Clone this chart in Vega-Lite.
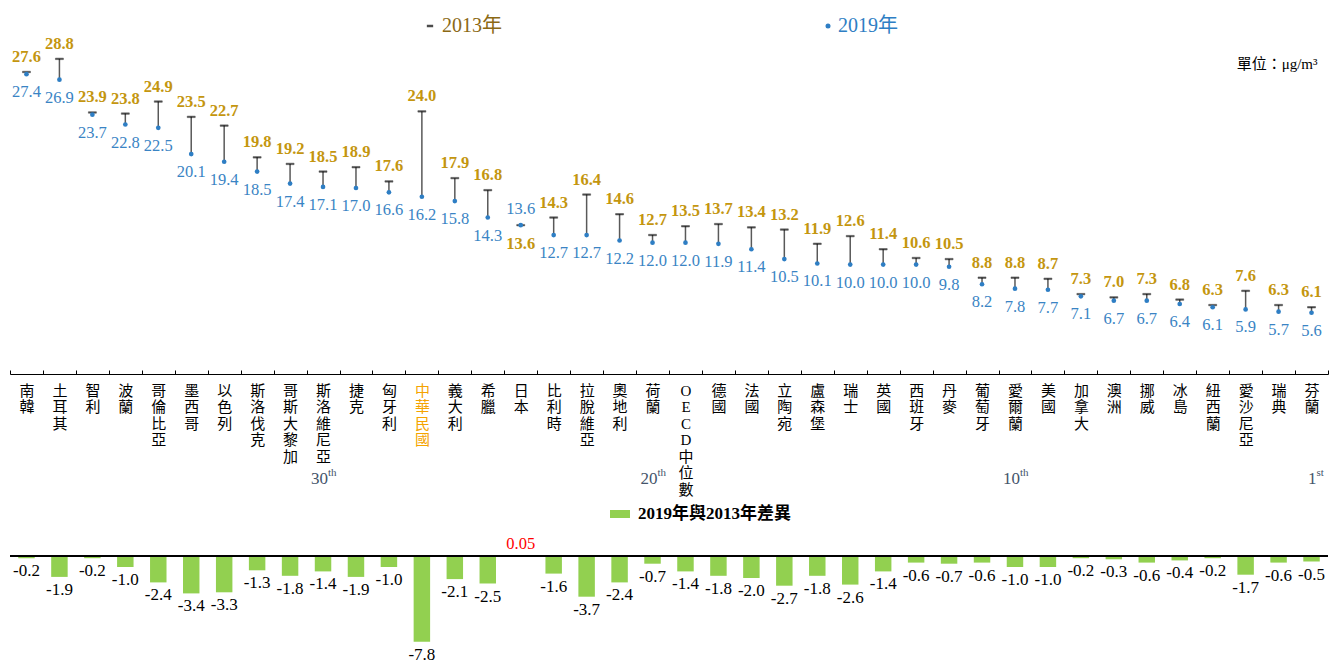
{
  "$schema": "https://vega.github.io/schema/vega-lite/v6.json",
  "padding": {"left": 9, "top": 16, "right": 0, "bottom": 0},
  "bounds": "flush",
  "spacing": 182,
  "config": {
    "view": {"stroke": null},
    "font": "'Liberation Serif', 'Noto Sans CJK TC', serif",
    "legend": {"padding": 0},
    "locale": {"number": {"decimal": ".", "thousands": ",", "grouping": [3], "currency": ["$", ""], "minus": "-"}}
  },
  "resolve": {"scale": {"color": "independent", "fill": "independent", "stroke": "independent"}},
  "data": {"values": [
    {"c": "南韓", "y13": 27.6, "y19": 27.4, "d": -0.2},
    {"c": "土耳其", "y13": 28.8, "y19": 26.9, "d": -1.9},
    {"c": "智利", "y13": 23.9, "y19": 23.7, "d": -0.2},
    {"c": "波蘭", "y13": 23.8, "y19": 22.8, "d": -1.0},
    {"c": "哥倫比亞", "y13": 24.9, "y19": 22.5, "d": -2.4},
    {"c": "墨西哥", "y13": 23.5, "y19": 20.1, "d": -3.4},
    {"c": "以色列", "y13": 22.7, "y19": 19.4, "d": -3.3},
    {"c": "斯洛伐克", "y13": 19.8, "y19": 18.5, "d": -1.3},
    {"c": "哥斯大黎加", "y13": 19.2, "y19": 17.4, "d": -1.8},
    {"c": "斯洛維尼亞", "y13": 18.5, "y19": 17.1, "d": -1.4, "rk": "30", "sfx": "th"},
    {"c": "捷克", "y13": 18.9, "y19": 17.0, "d": -1.9},
    {"c": "匈牙利", "y13": 17.6, "y19": 16.6, "d": -1.0},
    {"c": "中華民國", "y13": 24.0, "y19": 16.2, "d": -7.8},
    {"c": "義大利", "y13": 17.9, "y19": 15.8, "d": -2.1},
    {"c": "希臘", "y13": 16.8, "y19": 14.3, "d": -2.5},
    {"c": "日本", "y13": 13.6, "y19": 13.6, "d": 0.05},
    {"c": "比利時", "y13": 14.3, "y19": 12.7, "d": -1.6},
    {"c": "拉脫維亞", "y13": 16.4, "y19": 12.7, "d": -3.7},
    {"c": "奧地利", "y13": 14.6, "y19": 12.2, "d": -2.4},
    {"c": "荷蘭", "y13": 12.7, "y19": 12.0, "d": -0.7, "rk": "20", "sfx": "th"},
    {"c": "OECD中位數", "y13": 13.5, "y19": 12.0, "d": -1.4},
    {"c": "德國", "y13": 13.7, "y19": 11.9, "d": -1.8},
    {"c": "法國", "y13": 13.4, "y19": 11.4, "d": -2.0},
    {"c": "立陶宛", "y13": 13.2, "y19": 10.5, "d": -2.7},
    {"c": "盧森堡", "y13": 11.9, "y19": 10.1, "d": -1.8},
    {"c": "瑞士", "y13": 12.6, "y19": 10.0, "d": -2.6},
    {"c": "英國", "y13": 11.4, "y19": 10.0, "d": -1.4},
    {"c": "西班牙", "y13": 10.6, "y19": 10.0, "d": -0.6},
    {"c": "丹麥", "y13": 10.5, "y19": 9.8, "d": -0.7},
    {"c": "葡萄牙", "y13": 8.8, "y19": 8.2, "d": -0.6},
    {"c": "愛爾蘭", "y13": 8.8, "y19": 7.8, "d": -1.0, "rk": "10", "sfx": "th"},
    {"c": "美國", "y13": 8.7, "y19": 7.7, "d": -1.0},
    {"c": "加拿大", "y13": 7.3, "y19": 7.1, "d": -0.2},
    {"c": "澳洲", "y13": 7.0, "y19": 6.7, "d": -0.3},
    {"c": "挪威", "y13": 7.3, "y19": 6.7, "d": -0.6},
    {"c": "冰島", "y13": 6.8, "y19": 6.4, "d": -0.4},
    {"c": "紐西蘭", "y13": 6.3, "y19": 6.1, "d": -0.2},
    {"c": "愛沙尼亞", "y13": 7.6, "y19": 5.9, "d": -1.7},
    {"c": "瑞典", "y13": 6.3, "y19": 5.7, "d": -0.6},
    {"c": "芬蘭", "y13": 6.1, "y19": 5.6, "d": -0.5, "rk": "1", "sfx": "st"}
  ]},
  "vconcat": [
    {
      "width": 1318,
      "height": 331,
      "layer": [
        {
          "mark": {"type": "rule", "color": "#595959", "strokeWidth": 1.5},
          "encoding": {
            "x": {"field": "c", "type": "nominal", "sort": null, "scale": {"paddingInner": 0, "paddingOuter": 0},
              "axis": {"title": null, "labelAngle": 0, "labelExpr": "split(datum.label, '')", "labelFontSize": 15, "labelLineHeight": 16.5, "labelFont": "'Liberation Serif', 'Noto Sans CJK TC', serif",
                "labelColor": {"condition": {"test": "datum.value == '中華民國'", "value": "#F5A300"}, "value": "black"},
                "domainColor": "black", "domainWidth": 1, "tickColor": "black", "tickSize": -4, "tickBand": "extent", "labelPadding": 13, "labelBaseline": "top", "grid": false}},
            "y": {"field": "y13", "type": "quantitative", "scale": {"domain": [0, 30.25], "nice": false, "zero": false}, "axis": null},
            "y2": {"field": "y19"}
          }
        },
        {
          "mark": {"type": "tick", "orient": "horizontal", "size": 8, "thickness": 1.5, "color": "black", "strokeWidth": 0.5},
          "encoding": {
            "x": {"field": "c", "type": "nominal", "sort": null},
            "y": {"field": "y13", "type": "quantitative"},
            "stroke": {"datum": "2013年", "scale": {"range": ["black"]},
              "legend": {"orient": "none", "legendX": 410, "legendY": -27, "title": null, "symbolType": "stroke", "symbolSize": 40, "symbolStrokeWidth": 2.5, "labelFontSize": 20, "labelColor": "#8B6914", "labelFont": "'Liberation Serif', 'Noto Sans CJK TC', serif", "labelOffset": 2}}
          }
        },
        {
          "mark": {"type": "point", "filled": true, "size": 22, "opacity": 1},
          "encoding": {
            "x": {"field": "c", "type": "nominal", "sort": null},
            "y": {"field": "y19", "type": "quantitative"},
            "fill": {"datum": "2019年", "scale": {"range": ["#2E7EC4"]},
              "legend": {"orient": "none", "legendX": 808, "legendY": -27, "title": null, "symbolType": "circle", "symbolSize": 25, "labelFontSize": 20, "labelColor": "#2E7EC4", "labelFont": "'Liberation Serif', 'Noto Sans CJK TC', serif", "labelOffset": 0}}
          }
        },
        {
          "transform": [{"filter": "datum.d <= 0"}],
          "mark": {"type": "text", "baseline": "middle", "dy": -15, "fontSize": 16.5, "fontWeight": "bold", "color": "#C4960F"},
          "encoding": {
            "x": {"field": "c", "type": "nominal", "sort": null},
            "y": {"field": "y13", "type": "quantitative"},
            "text": {"field": "y13", "type": "quantitative", "format": ".1f"}
          }
        },
        {
          "transform": [{"filter": "datum.d <= 0"}],
          "mark": {"type": "text", "baseline": "middle", "dy": 18, "fontSize": 16.5, "color": "#3A84C4"},
          "encoding": {
            "x": {"field": "c", "type": "nominal", "sort": null},
            "y": {"field": "y19", "type": "quantitative"},
            "text": {"field": "y19", "type": "quantitative", "format": ".1f"}
          }
        },
        {
          "transform": [{"filter": "datum.d > 0"}],
          "mark": {"type": "text", "baseline": "middle", "dy": 19, "fontSize": 16.5, "fontWeight": "bold", "color": "#C4960F"},
          "encoding": {
            "x": {"field": "c", "type": "nominal", "sort": null},
            "y": {"field": "y13", "type": "quantitative"},
            "text": {"field": "y13", "type": "quantitative", "format": ".1f"}
          }
        },
        {
          "transform": [{"filter": "datum.d > 0"}],
          "mark": {"type": "text", "baseline": "middle", "dy": -16, "fontSize": 16.5, "color": "#3A84C4"},
          "encoding": {
            "x": {"field": "c", "type": "nominal", "sort": null},
            "y": {"field": "y19", "type": "quantitative"},
            "text": {"field": "y19", "type": "quantitative", "format": ".1f"}
          }
        },
        {
          "transform": [{"filter": "isValid(datum.rk)"}],
          "mark": {"type": "text", "baseline": "middle", "align": "right", "dx": 5, "fontSize": 17, "color": "#44546A"},
          "encoding": {
            "x": {"field": "c", "type": "nominal", "sort": null},
            "y": {"datum": -9.6},
            "text": {"field": "rk"}
          }
        },
        {
          "transform": [{"filter": "isValid(datum.rk)"}],
          "mark": {"type": "text", "baseline": "middle", "align": "left", "dx": 5, "dy": -6, "fontSize": 11, "color": "#44546A"},
          "encoding": {
            "x": {"field": "c", "type": "nominal", "sort": null},
            "y": {"datum": -9.6},
            "text": {"field": "sfx"}
          }
        },
        {
          "data": {"values": [{"u": "單位：μg/m³"}]},
          "mark": {"type": "text", "baseline": "middle", "align": "right", "dx": 6, "fontSize": 15, "color": "black"},
          "encoding": {
            "x": {"datum": "芬蘭"},
            "y": {"datum": 28.3},
            "text": {"field": "u"}
          }
        }
      ]
    },
    {
      "width": 1318,
      "height": 88,
      "layer": [
        {
          "mark": {"type": "bar", "width": {"band": 0.5}},
          "encoding": {
            "x": {"field": "c", "type": "nominal", "sort": null, "scale": {"paddingInner": 0, "paddingOuter": 0}, "axis": null},
            "y": {"field": "d", "type": "quantitative", "scale": {"domain": [-8, 0], "nice": false}, "axis": null},
            "color": {"datum": "2019年與2013年差異", "scale": {"range": ["#92D050"]},
              "legend": {"orient": "none", "legendX": 600, "legendY": -52, "title": null, "symbolType": "M-1,-0.4H1V0.4H-1Z", "symbolSize": 400, "symbolStrokeWidth": 0, "labelFontSize": 17, "labelFontWeight": "bold", "labelColor": "black", "labelFont": "'Liberation Serif', 'Noto Sans CJK TC', serif", "labelOffset": 8}}
          }
        },
        {
          "mark": {"type": "rule", "color": "black", "strokeWidth": 1},
          "encoding": {"y": {"datum": 0}}
        },
        {
          "transform": [{"filter": "datum.d < 0"}],
          "mark": {"type": "text", "baseline": "top", "dy": 5, "fontSize": 17, "color": "black"},
          "encoding": {
            "x": {"field": "c", "type": "nominal", "sort": null},
            "y": {"field": "d", "type": "quantitative"},
            "text": {"field": "d", "type": "quantitative", "format": ".1f"}
          }
        },
        {
          "transform": [{"filter": "datum.d > 0"}],
          "mark": {"type": "text", "baseline": "bottom", "dy": -3, "fontSize": 16.5, "color": "#FF0000"},
          "encoding": {
            "x": {"field": "c", "type": "nominal", "sort": null},
            "y": {"field": "d", "type": "quantitative"},
            "text": {"field": "d", "type": "quantitative", "format": ".2f"}
          }
        }
      ]
    }
  ]
}
